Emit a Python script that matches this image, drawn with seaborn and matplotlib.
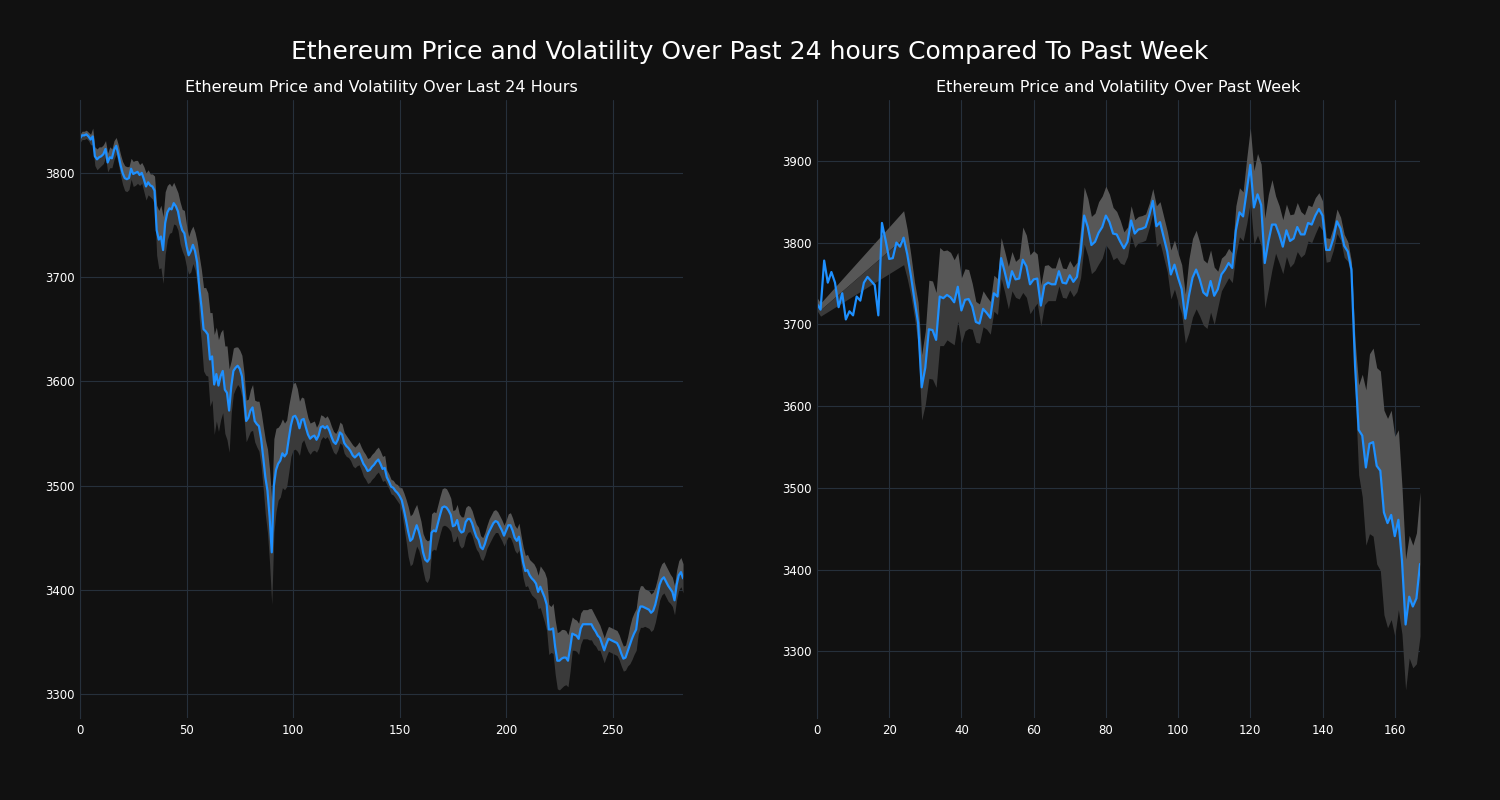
import numpy as np
import pandas as pd
import seaborn as sns
import matplotlib.pyplot as plt

# hourly close, last 24 hours (5-min steps)
day_price = [
    3833, 3836, 3836, 3837, 3835, 3832, 3835, 3816, 3813, 3815,
    3816, 3818, 3823, 3810, 3815, 3814, 3822, 3826, 3818, 3808,
    3800, 3795, 3794, 3795, 3804, 3799, 3800, 3801, 3798, 3800,
    3794, 3787, 3791, 3788, 3787, 3783, 3745, 3736, 3739, 3726,
    3752, 3762, 3766, 3765, 3771, 3768, 3763, 3752, 3745, 3742,
    3730, 3721, 3725, 3731, 3725, 3714, 3690, 3672, 3650, 3648,
    3645, 3621, 3624, 3597, 3607, 3596, 3605, 3610, 3592, 3589,
    3572, 3595, 3610, 3613, 3615, 3612, 3605, 3586, 3562, 3565,
    3572, 3575, 3562, 3559, 3557, 3545, 3527, 3508, 3495, 3470,
    3436, 3500, 3515, 3521, 3524, 3531, 3528, 3531, 3545, 3558,
    3566, 3567, 3563, 3555, 3563, 3564, 3556, 3549, 3545, 3547,
    3548, 3544, 3548, 3556, 3557, 3555, 3557, 3553, 3547, 3542,
    3540, 3544, 3551, 3549, 3541, 3538, 3536, 3533, 3529, 3527,
    3529, 3531, 3526, 3521, 3518, 3514, 3515, 3518, 3520, 3523,
    3525, 3521, 3516, 3517, 3508, 3504, 3499, 3498, 3495, 3493,
    3490, 3486, 3477, 3467, 3456, 3447, 3449, 3456, 3462, 3456,
    3448, 3436, 3429, 3427, 3430, 3455, 3457, 3456, 3464, 3472,
    3479, 3480, 3479, 3476, 3472, 3461, 3462, 3467, 3458, 3455,
    3456, 3465, 3468, 3468, 3464, 3457, 3451, 3448, 3441, 3439,
    3444, 3451, 3456, 3460, 3464, 3466, 3465, 3461, 3457, 3452,
    3457, 3462, 3462, 3457, 3450, 3447, 3451, 3438, 3426, 3418,
    3419, 3414, 3411, 3409, 3406, 3398, 3403, 3398, 3393, 3386,
    3362, 3362, 3363, 3345, 3332, 3332, 3334, 3335, 3335, 3332,
    3344, 3358, 3357, 3356, 3353, 3363, 3367, 3367, 3367, 3367,
    3367, 3363, 3360, 3356, 3354, 3348, 3342, 3348, 3353, 3352,
    3351, 3350, 3349, 3345, 3339, 3334, 3335, 3341, 3347, 3353,
    3358, 3362, 3378, 3384, 3384, 3383, 3382, 3381, 3378, 3380,
    3386, 3395, 3405, 3410, 3412, 3408, 3404, 3401, 3398, 3390,
    3405, 3414, 3417, 3411,
]

day_vol = [
    4, 4, 4, 4, 4, 5, 8, 9, 10, 10,
    9, 9, 8, 9, 10, 9, 9, 8, 9, 10,
    11, 12, 12, 11, 10, 12, 12, 11, 10, 10,
    12, 13, 12, 11, 12, 14, 24, 28, 30, 32,
    30, 26, 24, 22, 20, 18, 18, 20, 20, 22,
    20, 18, 20, 18, 18, 20, 30, 35, 40, 42,
    40, 45, 42, 48, 45, 44, 42, 40, 42, 45,
    40, 25, 22, 20, 18, 18, 20, 22, 20, 18,
    20, 22, 20, 22, 24, 26, 30, 36, 40, 45,
    50, 45, 40, 35, 35, 33, 32, 32, 32, 30,
    32, 32, 30, 26, 22, 20, 18, 16, 15, 14,
    14, 12, 12, 12, 10, 10, 10, 10, 10, 10,
    10, 10, 10, 10, 10, 10, 9, 9, 10, 10,
    10, 11, 11, 12, 12, 12, 12, 12, 12, 12,
    12, 12, 12, 12, 7, 7, 7, 7, 7, 8,
    8, 12, 16, 20, 24, 24, 24, 22, 20, 18,
    18, 18, 20, 20, 18, 18, 18, 18, 18, 18,
    18, 18, 18, 17, 16, 15, 15, 15, 15, 15,
    14, 14, 13, 12, 12, 12, 12, 12, 11, 11,
    11, 11, 12, 12, 12, 11, 10, 10, 10, 10,
    10, 11, 12, 12, 12, 12, 13, 14, 15, 15,
    15, 15, 16, 16, 15, 16, 20, 22, 24, 25,
    24, 22, 24, 26, 27, 28, 28, 27, 26, 25,
    22, 16, 15, 15, 15, 15, 14, 14, 14, 15,
    15, 15, 14, 14, 12, 12, 12, 12, 12, 12,
    12, 12, 12, 12, 12, 12, 12, 14, 18, 20,
    20, 20, 20, 20, 20, 18, 18, 18, 18, 18,
    17, 16, 15, 15, 15, 15, 15, 14, 14, 14,
    14, 14, 14, 14,
]

# hourly close, past week
week_price = [
    3725, 3718, 3778, 3751, 3764, 3751, 3721, 3738, 3706, 3716,
    3711, 3734, 3729, 3751, 3758, 3753, 3748, 3711, 3824, 3803,
    3780, 3781, 3800, 3795, 3806, 3786, 3760, 3730, 3702, 3623,
    3647, 3694, 3693, 3681, 3734, 3732, 3736, 3733, 3727, 3746,
    3717, 3730, 3731, 3722, 3703, 3701, 3719, 3714, 3708, 3738,
    3734, 3781, 3764, 3745, 3765, 3755, 3756, 3779, 3771, 3749,
    3755, 3756, 3723, 3748, 3751, 3749, 3749, 3765, 3751, 3750,
    3760, 3752, 3758, 3787, 3833, 3819, 3797, 3801, 3812, 3819,
    3833, 3825, 3811, 3810, 3801, 3793, 3801, 3827, 3811, 3816,
    3817, 3819, 3833, 3851, 3820, 3825, 3807, 3789, 3761, 3773,
    3757, 3743, 3707, 3735, 3757, 3767, 3755, 3739, 3735, 3753,
    3735, 3743, 3761, 3767, 3775, 3769, 3815, 3837, 3832, 3863,
    3895, 3843, 3859, 3846, 3775, 3801, 3822, 3822, 3810, 3795,
    3815, 3802, 3805, 3819, 3810, 3810, 3824, 3822, 3833, 3841,
    3833, 3791, 3791, 3805, 3826, 3817, 3796, 3789, 3767, 3650,
    3571, 3564, 3525, 3554, 3556, 3527, 3521, 3470, 3457, 3467,
    3441, 3461, 3411, 3333, 3367, 3355, 3365, 3407,
]

nan = np.nan
week_vol = [
    8, 8, nan, nan, nan, nan, nan, nan, nan, nan,
    nan, nan, nan, nan, nan, nan, nan, nan, nan, nan,
    nan, nan, nan, nan, 33, 30, 25, 22, 25, 40,
    45, 60, 60, 58, 60, 58, 55, 55, 52, 42,
    40, 38, 36, 28, 25, 24, 22, 20, 20, 22,
    22, 25, 25, 26, 24, 22, 25, 40, 38, 36,
    35, 30, 25, 24, 22, 20, 20, 18, 18, 18,
    18, 18, 18, 30, 35, 35, 35, 35, 38, 38,
    36, 34, 32, 28, 26, 20, 18, 18, 17, 16,
    16, 16, 15, 15, 25, 25, 25, 25, 30, 30,
    30, 30, 30, 45, 48, 48, 45, 40, 40, 38,
    35, 22, 20, 18, 18, 18, 30, 30, 30, 40,
    45, 45, 50, 50, 55, 58, 55, 35, 35, 33,
    32, 32, 30, 30, 28, 24, 22, 22, 22, 20,
    18, 15, 14, 14, 15, 14, 14, 12, 10, 30,
    55, 75, 95, 110, 115, 120, 122, 125, 128, 128,
    122, 110, 90, 80, 75, 75, 80, 88,
]

BG = '#111111'
GRID = '#26303b'
LINE = '#1e90ff'

sns.set_style('dark', {
    'axes.facecolor': BG, 'figure.facecolor': BG, 'axes.edgecolor': GRID,
    'grid.color': GRID, 'axes.grid': True, 'text.color': 'white',
    'xtick.color': 'white', 'ytick.color': 'white',
})
plt.rcParams['font.family'] = ['DejaVu Sans']


def draw(ax, price, vol, title):
    df = pd.DataFrame({'x': np.arange(len(price)), 'price': price, 'vol': vol})
    band = df.dropna()
    ax.fill_between(band['x'], band['price'], band['price'] + band['vol'],
                    color='#575757', lw=0)
    ax.fill_between(band['x'], band['price'] - band['vol'], band['price'],
                    color='#3a3a3a', lw=0)
    sns.lineplot(data=df, x='x', y='price', color=LINE, lw=1.6, ax=ax)
    ax.set_xlim(0, len(price) - 1)
    ax.set_xlabel('')
    ax.set_ylabel('')
    ax.set_title(title, color='white', fontsize=11.5)
    ax.tick_params(length=0, labelsize=8.5, pad=4)
    for s in ['top', 'right', 'bottom']:
        ax.spines[s].set_visible(False)
    ax.spines['left'].set_color(GRID)


fig, (ax1, ax2) = plt.subplots(1, 2, figsize=(15, 8), dpi=100)
fig.subplots_adjust(left=0.0533, right=0.9467, bottom=0.1025, top=0.875, wspace=0.222)

draw(ax1, day_price, day_vol, 'Ethereum Price and Volatility Over Last 24 Hours')
draw(ax2, week_price, week_vol, 'Ethereum Price and Volatility Over Past Week')

fig.suptitle('Ethereum Price and Volatility Over Past 24 hours Compared To Past Week',
             color='white', fontsize=18, y=0.95)

fig.savefig('out.png', facecolor=BG)
